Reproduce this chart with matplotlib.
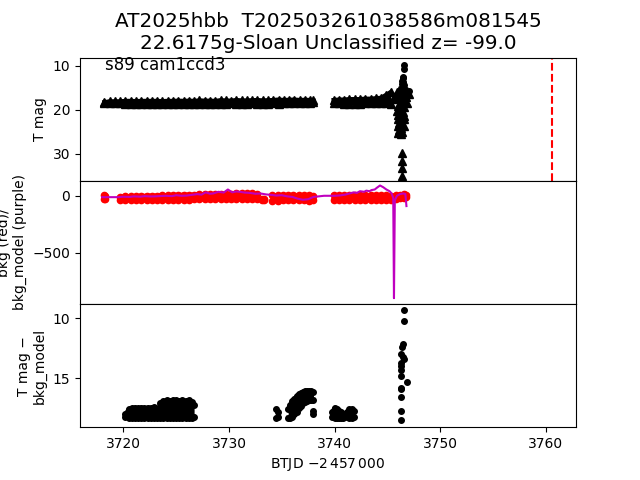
import matplotlib
matplotlib.use("Agg")
import matplotlib.pyplot as plt

# ---------------- data ----------------
title_text = "AT2025hbb  T202503261038586m081545\n22.6175g-Sloan Unclassified z= -99.0"
sector_text = "s89 cam1ccd3"
disc_time = 3760.55

# Panel 1: T mag.  Dense limit bands (bright / faint envelope of the triangles)
band1_t = [3718.2, 3718.7, 3719.2, 3719.7, 3720.2, 3720.7, 3721.2, 3721.7, 3722.2, 3722.7,
           3723.2, 3723.7, 3724.2, 3724.7, 3725.2, 3725.7, 3726.2, 3726.7, 3727.2, 3727.7,
           3728.2, 3728.7, 3729.2, 3729.7, 3730.2, 3730.7, 3731.2, 3731.7, 3732.2, 3732.7,
           3733.2, 3733.7, 3734.2, 3734.7, 3735.2, 3735.7, 3736.2, 3736.7, 3737.2, 3737.7, 3738.0]
band1_hi = [18.3, 18.1, 18.1, 18.1, 18.0, 18.0, 18.05, 18.0, 18.0, 18.0,
            18.0, 18.05, 18.0, 18.0, 17.95, 18.0, 17.95, 18.0, 17.9, 17.95,
            17.95, 18.0, 17.85, 17.9, 17.95, 17.8, 17.9, 17.9, 17.85, 17.8,
            17.9, 17.85, 17.8, 17.7, 17.8, 17.75, 17.7, 17.8, 17.75, 17.8, 17.9]
band1_lo = [18.4, 18.5, 18.5, 18.55, 18.6, 18.6, 18.6, 18.6, 18.6, 18.6,
            18.6, 18.6, 18.6, 18.6, 18.6, 18.6, 18.6, 18.6, 18.6, 18.6,
            18.6, 18.6, 18.6, 18.6, 18.55, 18.6, 18.6, 18.6, 18.55, 18.6,
            18.6, 18.6, 18.55, 18.6, 18.55, 18.5, 18.5, 18.5, 18.45, 18.4, 18.3]
band2_t = [3739.9, 3740.4, 3740.9, 3741.4, 3741.9, 3742.4, 3742.9, 3743.4, 3743.9, 3744.4,
           3744.9, 3745.3]
band2_hi = [17.8, 17.7, 17.7, 17.6, 17.6, 17.6, 17.5, 17.5, 17.4, 17.3, 16.6, 16.0]
band2_lo = [18.5, 18.55, 18.6, 18.6, 18.6, 18.6, 18.55, 18.55, 18.5, 18.5, 18.5, 18.6]
# individual limit triangles around the event
lim_t = [3745.5, 3745.7, 3745.9, 3746.1, 3746.3, 3746.5, 3746.7, 3746.9, 3747.0, 3746.8,
         3746.6, 3746.4, 3746.2, 3746.0, 3746.3, 3746.6, 3746.9, 3746.1, 3746.4, 3746.7,
         3745.9, 3746.2, 3746.5, 3746.0, 3746.3, 3746.6, 3746.0, 3746.3, 3746.6, 3746.1,
         3746.4, 3746.0, 3746.3, 3746.6, 3746.1, 3746.4, 3746.0, 3746.3,
         3746.35, 3746.35, 3746.35, 3746.35]
lim_mag = [17.5, 16.8, 16.0, 15.5, 15.0, 14.8, 15.3, 15.8, 16.5, 17.2,
           17.8, 18.3, 18.8, 19.2, 19.5, 19.3, 18.5, 17.3, 16.6, 16.5,
           20.4, 20.2, 20.5, 21.2, 21.0, 21.4, 22.0, 22.3, 22.1, 23.0,
           23.2, 23.8, 24.1, 23.7, 24.7, 25.0, 25.3, 25.5,
           29.9, 31.6, 33.3, 35.0]
det1_t = [3746.6, 3746.6, 3746.5, 3746.5, 3746.4, 3746.5, 3746.5, 3746.4, 3746.6, 3746.5,
          3747.0, 3746.4, 3746.4, 3746.4, 3746.4]
det1_mag = [9.8, 10.7, 12.6, 12.85, 13.45, 13.65, 13.85, 14.15, 14.45, 14.75,
            15.8, 16.25, 17.05, 18.15, 18.95]

# Panel 2: background (red points, envelope per segment) and model (purple line)
redA_t = [3718.15, 3718.25]
redA_hi = [5, -5]
redA_lo = [-25, -30]
redB_t = [3719.7, 3720.2, 3720.7, 3721.2, 3721.7, 3722.2, 3722.7, 3723.2, 3723.7, 3724.2,
          3724.7, 3725.2, 3725.7, 3726.2, 3726.7, 3727.2, 3727.7, 3728.2, 3728.7, 3729.2,
          3729.7, 3730.2, 3730.7, 3731.2, 3731.7, 3732.2, 3732.7]
redB_hi = [-10, -5, -5, -3, 0, 0, 2, 2, 5, 5,
           8, 8, 10, 10, 10, 12, 12, 15, 15, 15,
           18, 18, 20, 20, 20, 20, 18]
redB_lo = [-40, -40, -40, -38, -38, -38, -36, -36, -35, -35,
           -35, -35, -33, -33, -32, -32, -32, -32, -30, -30,
           -30, -30, -30, -30, -32, -32, -32]
redC_t = [3733.15, 3733.35]
redC_hi = [-25, -25]
redC_lo = [-40, -40]
redD_t = [3734.1, 3734.6, 3735.1, 3735.6, 3736.1, 3736.6, 3737.1, 3737.6, 3738.0]
redD_hi = [5, 5, 5, 8, 8, 5, 5, 5, 0]
redD_lo = [-42, -42, -40, -40, -40, -40, -40, -42, -40]
redE_t = [3739.9, 3740.4, 3740.9, 3741.4, 3741.9, 3742.4, 3742.9, 3743.4, 3743.9, 3744.4,
          3744.9, 3745.3, 3745.8, 3746.2, 3746.6, 3746.8]
redE_hi = [5, 5, 5, 5, 5, 5, 5, 5, 5, 5, 3, 0, 5, 10, 15, 10]
redE_lo = [-38, -36, -36, -36, -36, -36, -36, -36, -36, -36, -36, -36, -25, -20, -15, -10]
model_t = [3718.0, 3719.5, 3720.0, 3720.6, 3721.0, 3721.6, 3722.0, 3722.6, 3723.0, 3723.6,
           3724.0, 3724.6, 3725.0, 3725.5, 3726.0, 3726.5, 3727.0, 3727.4, 3727.8, 3728.2,
           3728.5, 3729.0, 3729.5, 3729.9, 3730.3, 3730.7, 3731.0, 3731.5, 3732.0, 3732.5,
           3733.0, 3733.5, 3734.0, 3734.5, 3735.0, 3735.5, 3736.0, 3736.5, 3737.0, 3737.5,
           3738.0, 3739.0, 3740.0, 3740.5, 3741.0, 3741.4, 3741.8, 3742.1, 3742.4, 3742.8,
           3743.0, 3743.3, 3743.5, 3743.8, 3744.0, 3744.3, 3744.6, 3744.9, 3745.2, 3745.4,
           3745.55, 3745.62, 3745.7, 3745.9, 3746.2, 3746.5, 3746.7, 3746.8]
model_val = [-12, -12, -8, -10, -5, -8, -3, -6, -5, -2,
             0, -3, 5, 0, 2, 8, 15, 10, 30, 18,
             20, 35, 28, 55, 30, 38, 35, 28, 25, 18,
             20, 12, 8, 2, 5, -5, -10, -25, -35, -30,
             -10, 0, 0, 3, 10, 20, 30, 25, 40, 35,
             45, 40, 50, 55, 70, 90, 75, 55, 40, 20,
             -20, -895, -40, 0, 15, 20, 15, -90]

# Panel 3: T mag - bkg_model (clusters: bright / faint envelope)
cA_t = [3720.2, 3720.5, 3720.8, 3721.1, 3721.4, 3721.7, 3722.0, 3722.3, 3722.6, 3722.9,
        3723.2, 3723.5, 3723.8, 3724.1, 3724.4, 3724.7, 3725.0, 3725.3, 3725.6, 3725.9,
        3726.2, 3726.5, 3726.7]
cA_hi = [18.0, 17.6, 17.5, 17.45, 17.5, 17.45, 17.5, 17.45, 17.5, 17.4,
         17.8, 17.1, 16.9, 16.85, 16.9, 16.8, 16.85, 16.9, 16.8, 16.9,
         16.85, 17.0, 17.2]
cA_lo = [18.25, 18.3, 18.3, 18.3, 18.3, 18.3, 18.3, 18.3, 18.3, 18.3,
         18.3, 18.3, 18.3, 18.3, 18.35, 18.3, 18.3, 18.3, 18.3, 18.3,
         18.3, 18.3, 18.2]
cB_t = [3734.5, 3734.65]
cB_hi = [17.6, 17.8]
cB_lo = [18.3, 18.2]
cC_t = [3735.6, 3735.8, 3736.0, 3736.2, 3736.4, 3736.6, 3736.8, 3737.0, 3737.2, 3737.4,
        3737.6, 3737.8, 3738.0]
cC_hi = [17.6, 17.2, 16.9, 16.7, 16.5, 16.35, 16.25, 16.15, 16.1, 16.05,
         16.05, 16.1, 16.15]
cC_lo = [18.3, 18.3, 18.2, 18.0, 17.8, 17.5, 17.3, 17.1, 17.0, 16.9,
         16.8, 16.8, 16.8]
cD_t = [3739.8, 3740.0, 3740.2, 3740.4, 3740.6, 3740.8]
cD_hi = [17.8, 17.45, 17.55, 17.7, 17.85, 17.95]
cD_lo = [18.25, 18.3, 18.3, 18.3, 18.3, 18.3]
cE_t = [3741.2, 3741.4, 3741.6, 3741.8]
cE_hi = [17.8, 17.6, 17.6, 17.7]
cE_lo = [18.25, 18.3, 18.3, 18.2]
det3_t = [3746.6, 3746.6, 3746.5, 3746.4, 3746.3, 3746.5, 3746.6, 3746.3, 3746.3, 3746.3,
          3746.3, 3746.9, 3746.3, 3746.3, 3746.3, 3746.3, 3746.3, 3737.95, 3737.95]
det3_mag = [9.36, 10.28, 12.17, 12.4, 13.0, 13.2, 13.4, 13.7, 14.0, 14.3,
            14.8, 15.36, 15.8, 15.9, 16.6, 17.7, 18.5, 17.75, 18.0]

xlims = (3715.9, 3762.85)
ylim1 = (36.1, 8.2)
ylim2 = (-946, 131)
ylim3 = (19.08, 8.83)


def dense(ax, t, hi, lo, marker, color, ms, lw):
    """Draw a dense cloud of points as its two envelopes plus the filled interior."""
    ax.fill_between(t, hi, lo, color=color, lw=0)
    ax.plot(t, hi, marker=marker, color=color, ms=ms, lw=lw)
    ax.plot(t, lo, marker=marker, color=color, ms=ms, lw=lw)


# ---------------- plot ----------------
fig, (ax1, ax2, ax3) = plt.subplots(3, 1, sharex=True, figsize=(6.4, 4.8), dpi=100)
fig.subplots_adjust(hspace=0)

dense(ax1, band1_t, band1_hi, band1_lo, '^', 'k', 6, 3)
dense(ax1, band2_t, band2_hi, band2_lo, '^', 'k', 6, 3)
ax1.plot(lim_t, lim_mag, '^', color='k', ms=6, ls='none')
ax1.plot(det1_t, det1_mag, 'o', color='k', ms=4, ls='none')
ax1.axvline(disc_time, color='r', ls='--', lw=1.5)
ax1.set_ylim(*ylim1)
ax1.set_ylabel("T mag")
ax1.text(0.05, 0.9, sector_text, transform=ax1.transAxes, fontsize=12)
ax1.set_title(title_text, fontsize=14.4)

for t, hi, lo in ((redA_t, redA_hi, redA_lo), (redB_t, redB_hi, redB_lo),
                  (redC_t, redC_hi, redC_lo), (redD_t, redD_hi, redD_lo),
                  (redE_t, redE_hi, redE_lo)):
    dense(ax2, t, hi, lo, 'o', 'r', 4.5, 3)
ax2.plot(model_t, model_val, '-', color='m', lw=1.5)
ax2.set_ylim(*ylim2)
ax2.set_ylabel("bkg (red)/\nbkg_model (purple)")

for t, hi, lo in ((cA_t, cA_hi, cA_lo), (cB_t, cB_hi, cB_lo), (cC_t, cC_hi, cC_lo),
                  (cD_t, cD_hi, cD_lo), (cE_t, cE_hi, cE_lo)):
    dense(ax3, t, hi, lo, 'o', 'k', 4, 3)
ax3.plot(det3_t, det3_mag, 'o', color='k', ms=4, ls='none')
ax3.set_ylim(*ylim3)
ax3.set_ylabel("T mag \u2212\nbkg_model")
ax3.set_xlabel("BTJD $-2\\,457\\,000$")
ax3.set_xlim(*xlims)

fig.savefig("out.png", dpi=100)
